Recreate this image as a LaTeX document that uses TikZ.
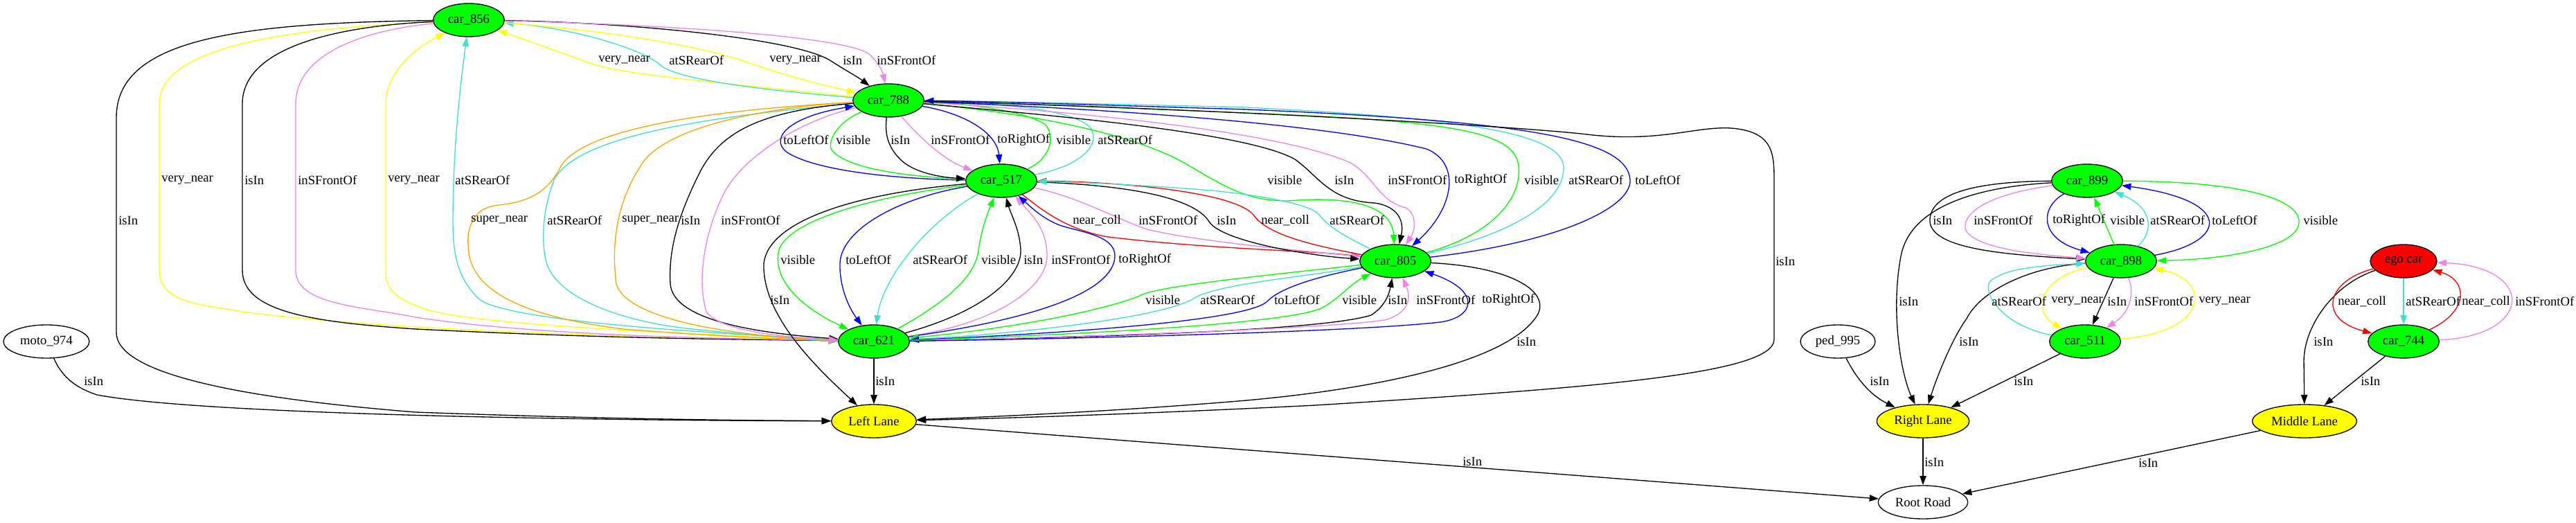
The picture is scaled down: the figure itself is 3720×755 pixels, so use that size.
\documentclass[tikz,border=0pt]{standalone}
\usepackage{fontspec}
\setmainfont{Liberation Serif}
\usetikzlibrary{shapes.geometric,arrows.meta}
\definecolor{xgreen}{HTML}{00FF00}
\definecolor{xyellow}{HTML}{FFFF00}
\definecolor{xturq}{HTML}{40E0D0}
\definecolor{xviolet}{HTML}{EE82EE}
\definecolor{xblue}{HTML}{0000FF}
\definecolor{xorange}{HTML}{FFA500}
\definecolor{xred}{HTML}{FF0000}
\begin{document}
\begin{tikzpicture}[x=0.75pt,y=-0.75pt,font=\fontsize{14}{16}\selectfont,
  nd/.style={ellipse,draw,line width=1pt,inner sep=0pt,minimum width=77pt,minimum height=36pt},
  car/.style={nd,fill=xgreen},
  lane/.style={nd,fill=xyellow},
  lbl/.style={anchor=west,inner sep=0pt},
  e/.style={line width=1pt,-{Triangle[length=10pt,width=7pt]}},
  isin/.style={e,draw=black},
  vn/.style={e,draw=xyellow},
  asr/.style={e,draw=xturq},
  isf/.style={e,draw=xviolet},
  tlo/.style={e,draw=xblue},
  tro/.style={e,draw=xblue},
  vis/.style={e,draw=xgreen},
  sn/.style={e,draw=xorange},
  nc/.style={e,draw=xred}]
\useasboundingbox (0,0) rectangle (3720,755);

% nodes
\node[car] (c856) at (677,29) {car\_856};
\node[car] (c788) at (1283,145) {car\_788};
\node[car] (c517) at (1446,261) {car\_517};
\node[car] (c805) at (2015,377) {car\_805};
\node[car] (c621) at (1262,493) {car\_621};
\node[lane,minimum width=92pt] (LL) at (1262,608) {Left Lane};
\node[nd,minimum width=93pt] (moto) at (67,493) {moto\_974};
\node[nd,minimum width=81pt] (ped) at (2654,493) {ped\_995};
\node[car] (c899) at (3014,261) {car\_899};
\node[car] (c898) at (3063,377) {car\_898};
\node[car] (c511) at (3011,493) {car\_511};
\node[nd,fill=xred,minimum width=72pt] (ego) at (3471,377) {ego car};
\node[car] (c744) at (3471,493) {car\_744};
\node[lane,minimum width=100pt] (RL) at (2777,608) {Right Lane};
\node[lane,minimum width=113pt] (ML) at (3328,608) {Middle Lane};
\node[nd,minimum width=97pt] (RR) at (2777,725) {Root Road};

% ---- car_856 ----
\draw[isin] (c856) .. controls (330,33) and (168,60) .. (168,170) -- (168,480) .. controls (168,540) and (350,575) .. (600,595) .. controls (900,606) and (1100,607) .. (LL);
\draw[vn] (c856) .. controls (450,40) and (230,60) .. (230,150) -- (230,390) .. controls (230,440) and (300,440) .. (350,450) .. controls (600,482) and (1000,487) .. (c621);
\draw[isin] (c856) .. controls (480,38) and (350,70) .. (350,150) -- (350,390) .. controls (350,450) and (450,465) .. (600,475) .. controls (900,490) and (1100,490) .. (c621);
\draw[isf] (c856) .. controls (520,44) and (427,80) .. (427,150) -- (427,390) .. controls (427,440) and (520,442) .. (600,458) .. controls (800,488) and (1100,489) .. (c621);
\draw[vn] (c621) .. controls (1000,482) and (700,470) .. (620,448) .. controls (572,432) and (557,420) .. (557,390) -- (557,150) .. controls (557,110) and (590,75) .. (c856);
\draw[asr] (c621) .. controls (1000,480) and (720,462) .. (690,430) .. controls (662,402) and (654,370) .. (654,320) .. controls (654,200) and (668,100) .. (c856);
\draw[vn] (c788) .. controls (1050,120) and (900,108) .. (855,92) .. controls (810,76) and (760,58) .. (c856);
\draw[asr] (c788) .. controls (1100,130) and (980,115) .. (955,95) .. controls (925,68) and (820,40) .. (c856);
\draw[vn] (c856) .. controls (850,42) and (1000,62) .. (1080,90) .. controls (1150,115) and (1200,125) .. (c788);
\draw[isin] (c856) .. controls (900,32) and (1150,55) .. (1200,88) .. controls (1222,102) and (1240,112) .. (c788);
\draw[isf] (c856) .. controls (950,35) and (1220,52) .. (1255,78) .. controls (1270,92) and (1275,105) .. (c788);

% ---- car_788 -> car_621 ----
\draw[sn] (c788) .. controls (1000,160) and (840,190) .. (810,240) .. controls (790,280) and (760,292) .. (720,296) .. controls (676,300) and (672,340) .. (678,370) .. controls (690,430) and (780,460) .. (900,475) .. controls (1050,487) and (1150,490) .. (c621);
\draw[asr] (c788) .. controls (1000,170) and (830,200) .. (800,260) .. controls (785,300) and (781,340) .. (788,375) .. controls (800,430) and (900,465) .. (1000,475) .. controls (1100,485) and (1150,490) .. (c621);
\draw[sn] (c788) .. controls (1100,155) and (955,185) .. (925,240) .. controls (892,290) and (882,350) .. (890,410) .. controls (905,460) and (1050,485) .. (c621);
\draw[isin] (c788) .. controls (1100,160) and (1040,190) .. (1010,250) .. controls (980,310) and (965,360) .. (968,410) .. controls (972,460) and (1080,480) .. (c621);
\draw[isf] (c788) .. controls (1150,175) and (1070,230) .. (1045,280) .. controls (1020,330) and (1005,400) .. (1020,450) .. controls (1040,480) and (1150,488) .. (c621);

% ---- car_788 <-> car_517 ----
\draw[tlo] (c517) .. controls (1280,258) and (1180,245) .. (1140,222) .. controls (1110,205) and (1130,170) .. (c788);
\draw[vis] (c788) .. controls (1212,175) and (1196,200) .. (1200,215) .. controls (1220,245) and (1320,255) .. (c517);
\draw[isin] (c788) .. controls (1278,190) and (1280,210) .. (1300,230) .. controls (1320,250) and (1360,256) .. (c517);
\draw[isf] (c788) .. controls (1320,190) and (1360,230) .. (c517);
\draw[tro] (c788) .. controls (1400,165) and (1440,195) .. (c517);
\draw[vis] (c517) .. controls (1515,230) and (1525,200) .. (1510,180) .. controls (1480,160) and (1400,150) .. (c788);
\draw[asr] (c517) .. controls (1560,240) and (1590,210) .. (1575,185) .. controls (1550,155) and (1420,148) .. (c788);

% ---- car_788 <-> car_805 ----
\draw[vis] (c788) .. controls (1450,160) and (1620,185) .. (1710,235) .. controls (1770,270) and (1800,290) .. (1860,290) .. controls (1960,282) and (2010,300) .. (c805);
\draw[isin] (c788) .. controls (1500,165) and (1800,190) .. (1870,230) .. controls (1905,255) and (1920,290) .. (1985,293) .. controls (2020,298) and (2028,320) .. (c805);
\draw[isf] (c788) .. controls (1550,160) and (1850,190) .. (1950,235) .. controls (1985,255) and (1990,290) .. (2030,300) .. controls (2045,308) and (2045,330) .. (c805);
\draw[tro] (c788) .. controls (1550,155) and (1900,175) .. (2060,215) .. controls (2110,235) and (2100,300) .. (c805);
\draw[vis] (c805) .. controls (2150,340) and (2198,290) .. (2193,240) .. controls (2188,190) and (2100,175) .. (1800,163) .. controls (1600,155) and (1420,148) .. (c788);
\draw[asr] (c805) .. controls (2190,335) and (2260,290) .. (2258,240) .. controls (2253,190) and (2100,170) .. (1800,155) .. controls (1600,150) and (1420,146) .. (c788);
\draw[tlo] (c805) .. controls (2250,350) and (2356,300) .. (2354,260) .. controls (2351,200) and (2200,175) .. (1800,158) .. controls (1600,152) and (1420,146) .. (c788);
\draw[isin] (c788) .. controls (1700,155) and (2200,182) .. (2300,195) .. controls (2400,205) and (2450,182) .. (2500,185) .. controls (2560,190) and (2562,220) .. (2562,260) -- (2562,490) .. controls (2562,540) and (2300,560) .. (1900,585) .. controls (1600,600) and (1400,605) .. (LL);

% ---- car_517 <-> car_805 ----
\draw[nc] (c517) .. controls (1490,290) and (1530,330) .. (1600,342) .. controls (1750,360) and (1900,362) .. (c805);
\draw[isf] (c517) .. controls (1560,285) and (1620,320) .. (1660,332) .. controls (1750,352) and (1900,363) .. (c805);
\draw[isin] (c517) .. controls (1650,268) and (1728,290) .. (1746,320) .. controls (1766,350) and (1900,370) .. (c805);
\draw[nc] (c805) .. controls (1900,355) and (1830,340) .. (1810,310) .. controls (1780,275) and (1600,262) .. (c517);
\draw[asr] (c805) .. controls (1950,345) and (1920,330) .. (1905,310) .. controls (1890,292) and (1800,280) .. (1750,275) .. controls (1650,267) and (1560,263) .. (c517);

% ---- car_517 <-> car_621 ----
\draw[vis] (c517) .. controls (1250,285) and (1140,320) .. (1125,360) .. controls (1115,400) and (1150,440) .. (c621);
\draw[tlo] (c517) .. controls (1300,285) and (1215,330) .. (1213,380) .. controls (1212,420) and (1230,450) .. (c621);
\draw[asr] (c517) .. controls (1340,320) and (1275,400) .. (c621);
\draw[vis] (c621) .. controls (1360,440) and (1410,400) .. (1413,360) .. controls (1418,330) and (1425,310) .. (c517);
\draw[isin] (c621) .. controls (1420,450) and (1476,400) .. (1474,360) .. controls (1472,330) and (1460,310) .. (c517);
\draw[isf] (c621) .. controls (1450,465) and (1512,410) .. (1512,370) .. controls (1512,330) and (1490,310) .. (c517);
\draw[tro] (c621) .. controls (1500,460) and (1608,420) .. (1610,370) .. controls (1611,340) and (1560,335) .. (1530,325) .. controls (1505,315) and (1490,300) .. (c517);
\draw[isin] (c517) .. controls (1230,280) and (1110,320) .. (1103,380) .. controls (1100,460) and (1190,540) .. (LL);

% ---- car_805 <-> car_621 ----
\draw[vis] (c805) .. controls (1850,395) and (1680,412) .. (1650,425) .. controls (1620,440) and (1500,470) .. (c621);
\draw[asr] (c805) .. controls (1880,400) and (1760,410) .. (1725,430) .. controls (1690,455) and (1500,480) .. (c621);
\draw[tlo] (c805) .. controls (1900,400) and (1850,415) .. (1830,435) .. controls (1800,465) and (1500,483) .. (c621);
\draw[vis] (c621) .. controls (1500,485) and (1850,470) .. (1908,445) .. controls (1933,432) and (1950,410) .. (c805);
\draw[isin] (c621) .. controls (1500,488) and (1900,480) .. (1980,455) .. controls (2000,442) and (2006,425) .. (c805);
\draw[isf] (c621) .. controls (1500,488) and (1900,476) .. (2000,462) .. controls (2035,452) and (2038,430) .. (c805);
\draw[tro] (c621) .. controls (1500,490) and (1950,480) .. (2080,465) .. controls (2130,458) and (2140,420) .. (c805);
\draw[isin] (c805) .. controls (2180,385) and (2240,420) .. (2220,455) .. controls (2180,520) and (2000,560) .. (1800,578) .. controls (1600,595) and (1400,603) .. (LL);

% ---- lanes / road ----
\draw[isin] (c621) -- (LL);
\draw[isin] (moto) .. controls (90,545) and (110,560) .. (140,570) .. controls (300,600) and (900,607) .. (LL);
\draw[isin] (LL) -- (RR);

% ---- right cluster ----
\draw[isin] (c899) .. controls (2850,262) and (2785,280) .. (2787,320) .. controls (2790,360) and (2900,368) .. (c898);
\draw[isin] (c899) .. controls (2850,270) and (2758,300) .. (2745,370) .. controls (2730,450) and (2745,540) .. (RL);
\draw[isf] (c899) .. controls (2875,280) and (2835,305) .. (2838,330) .. controls (2848,360) and (2950,368) .. (c898);
\draw[tro] (c899) .. controls (2945,300) and (2945,345) .. (c898);
\draw[vis] (c898) -- (c899);
\draw[asr] (c898) .. controls (3110,335) and (3110,300) .. (c899);
\draw[tlo] (c898) .. controls (3215,350) and (3230,290) .. (c899);
\draw[vis] (c899) .. controls (3250,262) and (3320,290) .. (3320,320) .. controls (3320,360) and (3200,375) .. (c898);
\draw[isin] (c898) .. controls (2930,385) and (2860,420) .. (2840,460) .. controls (2818,490) and (2795,550) .. (RL);
\draw[asr] (c511) .. controls (2890,470) and (2860,420) .. (2875,405) .. controls (2900,385) and (2960,383) .. (c898);
\draw[vn] (c898) .. controls (2945,400) and (2935,450) .. (c511);
\draw[isin] (c898) -- (c511);
\draw[isf] (c898) .. controls (3082,420) and (3078,450) .. (c511);
\draw[vn] (c511) .. controls (3190,480) and (3195,405) .. (c898);
\draw[isin] (c511) -- (RL);
\draw[isin] (ped) .. controls (2680,545) and (2700,570) .. (RL);
\draw[isin] (RL) -- (RR);
\draw[isin] (ego) .. controls (3370,410) and (3328,470) .. (3327,520) -- (ML);
\draw[nc] (ego) .. controls (3360,405) and (3345,460) .. (c744);
\draw[asr] (ego) -- (c744);
\draw[nc] (c744) .. controls (3565,450) and (3565,405) .. (ego);
\draw[isf] (c744) .. controls (3660,485) and (3662,385) .. (ego);
\draw[isin] (c744) -- (ML);
\draw[isin] (ML) -- (RR);

% ---- labels ----
\node[lbl] (l1) at (171,318) {isIn};
\node[lbl] (l2) at (233,260) {very\_near};
\node[lbl] (l3) at (353,260) {isIn};
\node[lbl] (l4) at (430,260) {inSFrontOf};
\node[lbl] (l5) at (560,260) {very\_near};
\node[lbl] (l6) at (657,260) {atSRearOf};
\node[lbl] (l7) at (864,87) {very\_near};
\node[lbl] (l8) at (966,87) {atSRearOf};
\node[lbl] (l9) at (1111,87) {very\_near};
\node[lbl] (l10) at (1217,87) {isIn};
\node[lbl] (l11) at (1266,87) {inSFrontOf};
\node[lbl] (l12) at (680,318) {super\_near};
\node[lbl] (l13) at (790,318) {atSRearOf};
\node[lbl] (l14) at (898,318) {super\_near};
\node[lbl] (l15) at (983,318) {isIn};
\node[lbl] (l16) at (1041,318) {inSFrontOf};
\node[lbl] (l17) at (1131,202) {toLeftOf};
\node[lbl] (l18) at (1207,202) {visible};
\node[lbl] (l19) at (1286,202) {isIn};
\node[lbl] (l20) at (1344,202) {inSFrontOf};
\node[lbl] (l21) at (1440,202) {toRightOf};
\node[lbl] (l22) at (1525,202) {visible};
\node[lbl] (l23) at (1585,202) {atSRearOf};
\node[lbl] (l24) at (1830,260) {visible};
\node[lbl] (l25) at (1927,260) {isIn};
\node[lbl] (l26) at (2004,260) {inSFrontOf};
\node[lbl] (l27) at (2100,260) {toRightOf};
\node[lbl] (l28) at (2201,260) {visible};
\node[lbl] (l29) at (2265,260) {atSRearOf};
\node[lbl] (l30) at (2361,260) {toLeftOf};
\node[lbl] (l31) at (2564,377) {isIn};
\node[lbl] (l32) at (1549,318) {near\_coll};
\node[lbl] (l33) at (1644,318) {inSFrontOf};
\node[lbl] (l34) at (1757,318) {isIn};
\node[lbl] (l35) at (1821,318) {near\_coll};
\node[lbl] (l36) at (1920,318) {atSRearOf};
\node[lbl] (l37) at (1127,375) {visible};
\node[lbl] (l38) at (1221,375) {toLeftOf};
\node[lbl] (l39) at (1318,375) {atSRearOf};
\node[lbl] (l40) at (1417,375) {visible};
\node[lbl] (l41) at (1478,375) {isIn};
\node[lbl] (l42) at (1518,375) {inSFrontOf};
\node[lbl] (l43) at (1615,375) {toRightOf};
\node[lbl] (l44) at (1112,433) {isIn};
\node[lbl] (l45) at (1654,433) {visible};
\node[lbl] (l46) at (1733,433) {atSRearOf};
\node[lbl] (l47) at (1840,433) {toLeftOf};
\node[lbl] (l48) at (1938,433) {visible};
\node[lbl] (l49) at (2004,433) {isIn};
\node[lbl] (l50) at (2045,433) {inSFrontOf};
\node[lbl] (l51) at (2140,433) {toRightOf};
\node[lbl] (l52) at (2190,493) {isIn};
\node[lbl] (l53) at (1264,550) {isIn};
\node[lbl] (l54) at (121,550) {isIn};
\node[lbl] (l55) at (2112,666) {isIn};
\node[lbl] (l56) at (2791,318) {isIn};
\node[lbl] (l57) at (2850,318) {inSFrontOf};
\node[lbl] (l58) at (2964,318) {toRightOf};
\node[lbl] (l59) at (3047,318) {visible};
\node[lbl] (l60) at (3105,318) {atSRearOf};
\node[lbl] (l61) at (3194,318) {toLeftOf};
\node[lbl] (l62) at (3326,318) {visible};
\node[lbl] (l63) at (2742,435) {isIn};
\node[lbl] (l64) at (2876,435) {atSRearOf};
\node[lbl] (l65) at (2962,435) {very\_near};
\node[lbl] (l66) at (3043,435) {isIn};
\node[lbl] (l67) at (3082,435) {inSFrontOf};
\node[lbl] (l68) at (3175,435) {very\_near};
\node[lbl] (l69) at (2829,493) {isIn};
\node[lbl] (l70) at (2700,550) {isIn};
\node[lbl] (l71) at (2908,550) {isIn};
\node[lbl] (l72) at (2779,667) {isIn};
\node[lbl] (l73) at (3341,493) {isIn};
\node[lbl] (l74) at (3376,435) {near\_coll};
\node[lbl] (l75) at (3474,435) {atSRearOf};
\node[lbl] (l76) at (3555,435) {near\_coll};
\node[lbl] (l77) at (3632,435) {inSFrontOf};
\node[lbl] (l78) at (3409,550) {isIn};
\node[lbl] (l79) at (3088,668) {isIn};
\end{tikzpicture}
\end{document}
